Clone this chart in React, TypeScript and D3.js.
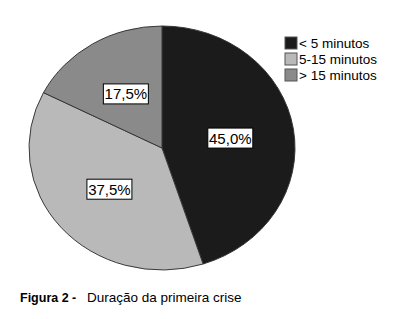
import React from "react";
import * as d3 from "d3";

const categories = ["< 5 minutos", "5-15 minutos", "> 15 minutos"];
const values = [45.0, 37.5, 17.5];
const labels = ["45,0%", "37,5%", "17,5%"];
const colors = ["#1b1b1b", "#b9b9b9", "#8a8a8a"];

export default function App() {
  const cx = 162, cy = 148, rx = 133, ry = 122;
  const pie = d3.pie<number>().sort(null)(values);
  const arc = d3.arc<d3.PieArcDatum<number>>().innerRadius(0).outerRadius(rx);
  const labelArc = d3.arc<d3.PieArcDatum<number>>().innerRadius(0).outerRadius(rx * 1.04);
  const font = "Arial, 'Liberation Sans', sans-serif";
  return (
    <svg width={399} height={319} style={{ position: "absolute", left: 0, top: 0 }}>
      <rect width={399} height={319} fill="#fff" />
      <g transform={`translate(${cx},${cy}) scale(1,${ry / rx})`}>
        {pie.map((d, i) => (
          <path key={i} d={arc(d) || ""} fill={colors[i]} stroke="#333" strokeWidth={1} />
        ))}
      </g>
      {pie.map((d, i) => {
        const [x, y0] = labelArc.centroid(d);
        const x2 = cx + x;
        const y2 = cy + y0 * (ry / rx);
        const w = 45, h = 20;
        return (
          <g key={i}>
            <rect x={x2 - w / 2} y={y2 - h / 2} width={w} height={h} fill="#fff" stroke="#000" strokeWidth={1} />
            <text x={x2} y={y2 + 5.5} textAnchor="middle" fontFamily={font} fontSize={15} fill="#000">{labels[i]}</text>
          </g>
        );
      })}
      {categories.map((c, i) => (
        <g key={c} transform={`translate(285,${37 + i * 16})`}>
          <rect x={0} y={0} width={12} height={12} fill={colors[i]} stroke="#555" strokeWidth={1} />
          <text x={14} y={11} fontFamily={font} fontSize={13.5} fill="#000">{c}</text>
        </g>
      ))}
      <text y={302} fontFamily={font} fill="#000">
        <tspan x={20} fontWeight="bold" fontSize={12.5}>Figura 2 -</tspan>
        <tspan x={87} fontSize={13.5}>Duração da primeira crise</tspan>
      </text>
    </svg>
  );
}
